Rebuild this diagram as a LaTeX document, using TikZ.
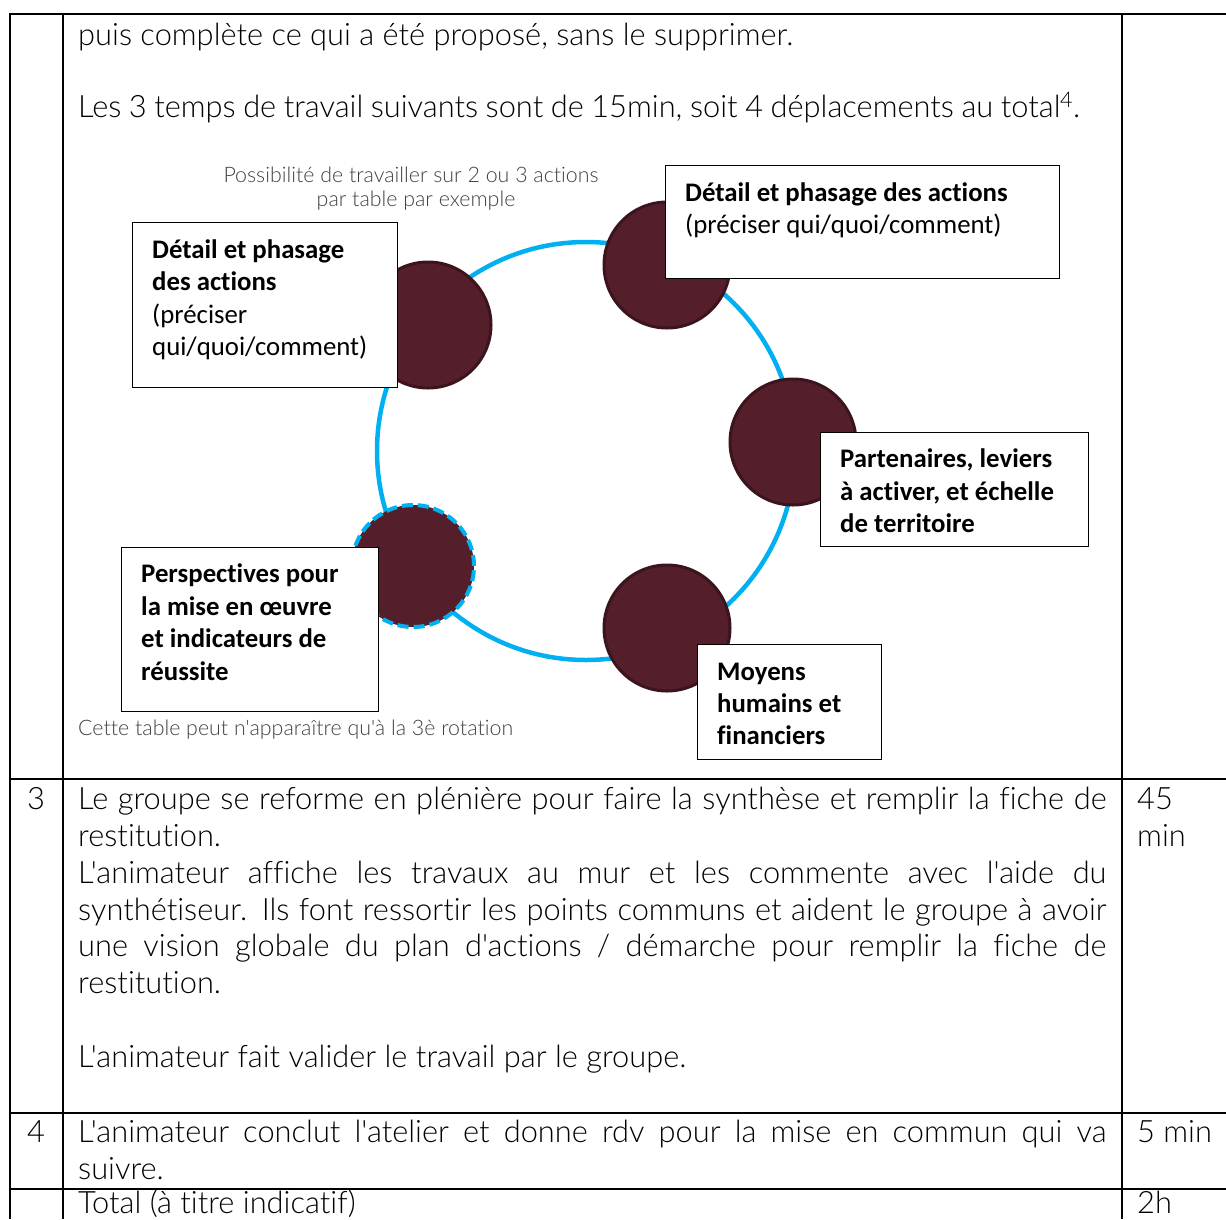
\documentclass[tikz,border=0pt]{standalone}
\usepackage{fontspec}
\IfFontExistsTF{Lato Light}{\newfontfamily\lt{Lato Light}[Ligatures={NoCommon,NoRare,NoDiscretionary}]}{\newfontfamily\lt{Lato}[Ligatures={NoCommon,NoRare,NoDiscretionary}]}
\newfontfamily\cb{Carlito}[Ligatures={NoCommon,NoRare,NoDiscretionary}]
\definecolor{cyanb}{RGB}{0,176,240}
\definecolor{wine}{RGB}{84,30,43}
\definecolor{wineb}{RGB}{60,20,30}
\definecolor{capgray}{RGB}{64,64,64}
\newlength\mwa
\settowidth\mwa{\lt\fontsize{10}{12}\selectfont puis complète ce qui a été proposé, sans le supprimer.}
\pgfmathsetmacro\ls{10*715/\mwa}
\settowidth\mwa{\cb\bfseries\fontsize{10}{12}\selectfont Partenaires, leviers}
\pgfmathsetmacro\bs{10*212/\mwa}
\settowidth\mwa{\lt\fontsize{10}{12}\selectfont Possibilité de travailler sur 2 ou 3 actions}
\pgfmathsetmacro\cs{10*375/\mwa}
\begin{document}
\begin{tikzpicture}[x=1pt,y=-1pt]
\tikzset{
  txt/.style={anchor=base west, inner sep=0pt, font=\lt\fontsize{\ls}{\ls}\selectfont},
  bt/.style={anchor=base west, inner sep=0pt, font=\cb\bfseries\fontsize{\bs}{\bs}\selectfont},
  rt/.style={anchor=base west, inner sep=0pt, font=\cb\fontsize{\bs}{\bs}\selectfont},
  captxt/.style={inner sep=0pt, text=capgray, font=\lt\fontsize{\cs}{\cs}\selectfont},
  tab/.style={line width=2.4pt, black},
  darkc/.style={circle, fill=wine, draw=wineb, line width=3pt, minimum size=126pt, inner sep=0pt},
  box/.style={draw=black, fill=white, line width=1.4pt, anchor=north west, inner sep=0pt},
}
\useasboundingbox (0,0) rectangle (1226,1219);
% table rules
\draw[tab] (10,14) -- (1226,14);
\draw[tab] (10,779) -- (1226,779);
\draw[tab] (10,1113) -- (1226,1113);
\draw[tab] (10,1189) -- (1226,1189);
\draw[tab] (10,13) -- (10,1219);
\draw[tab] (63,13) -- (63,1219);
\draw[tab] (1122,13) -- (1122,1219);
% top text
\node[txt] (t1) at (78,45) {puis complète ce qui a été proposé, sans le supprimer.};
\node[txt] (t2) at (78,117) {\makebox[982pt][s]{Les 3 temps de travail suivants sont de 15min, soit 4 déplacements au total}\textsuperscript{4}.};
% ring
\node[circle, draw=cyanb, line width=4.5pt, minimum size=418pt, inner sep=0pt] (ring) at (586,451) {};
% tables
\node[darkc] (c1) at (428,325) {};
\node[darkc] (c2) at (667,265) {};
\node[darkc] (c3) at (793,442) {};
\node[darkc] (c4) at (667,628) {};
\node[darkc, draw=cyanb, line width=4pt, dash pattern=on 11pt off 5pt, minimum size=122pt] (c5) at (413,566) {};
% captions
\node[captxt] (cap1) at (411,175) {Possibilité de travailler sur 2 ou 3 actions};
\node[captxt] (cap2) at (416,201) {par table par exemple};
\node[captxt, anchor=west] (cap3) at (78,730) {Cette table peut n'apparaître qu'à la 3è rotation};
% boxes
\node[box, minimum width=265pt, minimum height=165pt] (bA) at (132,222) {};
\node[bt] (a1) at (152,258) {Détail et phasage};
\node[bt] (a2) at (152,290) {des actions};
\node[rt] (a3) at (152,323) {(préciser};
\node[rt] (a4) at (152,355) {qui/quoi/comment)};
\node[box, minimum width=394pt, minimum height=113pt] (bB) at (665,165) {};
\node[bt] (b1) at (685,201) {Détail et phasage des actions};
\node[rt] (b2) at (685,233) {(préciser qui/quoi/comment)};
\node[box, minimum width=268pt, minimum height=114pt] (bC) at (820,432) {};
\node[bt] (k1) at (840,467) {Partenaires, leviers};
\node[bt] (k2) at (840,500) {à activer, et échelle};
\node[bt] (k3) at (840,532) {de territoire};
\node[box, minimum width=257pt, minimum height=164pt] (bD) at (121,547) {};
\node[bt] (d1) at (141,582) {Perspectives pour};
\node[bt] (d2) at (141,615) {la mise en œuvre};
\node[bt] (d3) at (141,647) {et indicateurs de};
\node[bt] (d4) at (141,680) {réussite};
\node[box, minimum width=184pt, minimum height=115pt] (bE) at (697,644) {};
\node[bt] (e1) at (717,680) {Moyens};
\node[bt] (e2) at (717,712) {humains et};
\node[bt] (e3) at (717,744) {financiers};
% row 3
\node[txt] (n3) at (27,809) {3};
\node[txt] (r1) at (78,809) {\makebox[1028pt][s]{Le groupe se reforme en plénière pour faire la synthèse et remplir la fiche de}};
\node[txt] (r2) at (78,846) {restitution.};
\node[txt] (r3) at (78,883) {\makebox[1028pt][s]{L'animateur affiche les travaux au mur et les commente avec l'aide du}};
\node[txt] (r4) at (78,920) {\makebox[1028pt][s]{synthétiseur. Ils font ressortir les points communs et aident le groupe à avoir}};
\node[txt] (r5) at (78,956) {\makebox[1028pt][s]{une vision globale du plan d'actions / démarche pour remplir la fiche de}};
\node[txt] (r6) at (78,993) {restitution.};
\node[txt] (r7) at (78,1067) {L'animateur fait valider le travail par le groupe.};
\node[txt] (m1) at (1137,809) {45};
\node[txt] (m2) at (1137,846) {min};
% row 4
\node[txt] (n4) at (27,1142) {4};
\node[txt] (s1) at (78,1142) {\makebox[1028pt][s]{L'animateur conclut l'atelier et donne rdv pour la mise en commun qui va}};
\node[txt] (s2) at (78,1179) {suivre.};
\node[txt] (m3) at (1137,1142) {5 min};
% total
\node[txt] (tot) at (78,1213) {Total (à titre indicatif)};
\node[txt] (m4) at (1137,1213) {2h};
\end{tikzpicture}
\end{document}
